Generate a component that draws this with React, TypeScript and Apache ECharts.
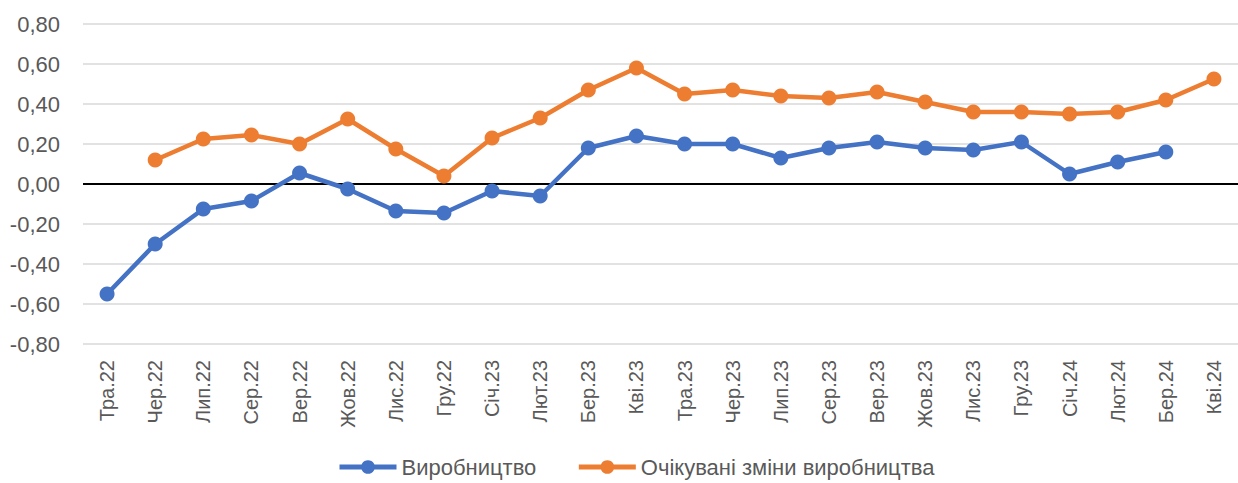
import React, { useEffect, useRef } from "react";
import * as echarts from "echarts";

const categories = [
  "Тра.22", "Чер.22", "Лип.22", "Сер.22", "Вер.22", "Жов.22", "Лис.22", "Гру.22",
  "Січ.23", "Лют.23", "Бер.23", "Кві.23", "Тра.23", "Чер.23", "Лип.23", "Сер.23",
  "Вер.23", "Жов.23", "Лис.23", "Гру.23", "Січ.24", "Лют.24", "Бер.24", "Кві.24",
];

const production = [
  -0.55, -0.30, -0.125, -0.085, 0.055, -0.025, -0.135, -0.145,
  -0.035, -0.06, 0.18, 0.24, 0.20, 0.20, 0.13, 0.18,
  0.21, 0.18, 0.17, 0.21, 0.05, 0.11, 0.16, null,
];

const expected = [
  null, 0.12, 0.225, 0.245, 0.20, 0.325, 0.175, 0.04,
  0.23, 0.33, 0.47, 0.58, 0.45, 0.47, 0.44, 0.43,
  0.46, 0.41, 0.36, 0.36, 0.35, 0.36, 0.42, 0.525,
];

const seriesNames = ["Виробництво", "Очікувані зміни виробництва"];
const colors = ["#4472C4", "#ED7D31"];

const FONT = "'Liberation Sans', Arial, sans-serif";

export default function App() {
  const ref = useRef<HTMLDivElement>(null);

  useEffect(() => {
    if (!ref.current) return;
    const chart = echarts.init(ref.current, undefined, { renderer: "svg" });
    chart.setOption({
      animation: false,
      backgroundColor: "#ffffff",
      color: colors,
      grid: { left: 83, right: -14, top: 24, bottom: 139, containLabel: false },
      legend: {
        top: 456,
        left: 337,
        padding: 0,
        itemWidth: 57,
        itemHeight: 17,
        itemGap: 40,
        lineStyle: { width: 5 },
        textStyle: { fontFamily: FONT, fontSize: 22, color: "#595959" },
        data: seriesNames,
      },
      xAxis: {
        type: "category",
        data: categories,
        boundaryGap: true,
        axisLine: { show: false, onZero: false },
        axisTick: { show: false },
        axisLabel: {
          rotate: 90,
          margin: 16,
          fontFamily: FONT,
          fontSize: 20,
          color: "#595959",
          interval: 0,
        },
        splitLine: { show: false },
      },
      yAxis: {
        type: "value",
        min: -0.8,
        max: 0.8,
        interval: 0.2,
        axisLine: { show: false },
        axisTick: { show: false },
        axisLabel: {
          margin: 23,
          fontFamily: FONT,
          fontSize: 22,
          color: "#595959",
          formatter: (v: number) => v.toFixed(2).replace(".", ","),
        },
        splitLine: { lineStyle: { color: "#D9D9D9", width: 1.5 } },
      },
      series: [
        {
          name: seriesNames[0],
          type: "line",
          data: production,
          symbol: "circle",
          symbolSize: 15,
          lineStyle: { width: 4.5, color: colors[0] },
          itemStyle: { color: colors[0] },
          connectNulls: false,
          z: 3,
          markLine: {
            silent: true,
            symbol: "none",
            label: { show: false },
            lineStyle: { color: "#000000", width: 2, type: "solid" },
            data: [{ yAxis: 0 }],
            z: 1,
          },
        },
        {
          name: seriesNames[1],
          type: "line",
          data: expected,
          symbol: "circle",
          symbolSize: 15,
          lineStyle: { width: 4.5, color: colors[1] },
          itemStyle: { color: colors[1] },
          connectNulls: false,
          z: 4,
        },
      ],
    });
    return () => chart.dispose();
  }, []);

  return (
    <div
      ref={ref}
      style={{ position: "fixed", left: 0, top: 0, width: 1238, height: 483 }}
    />
  );
}
